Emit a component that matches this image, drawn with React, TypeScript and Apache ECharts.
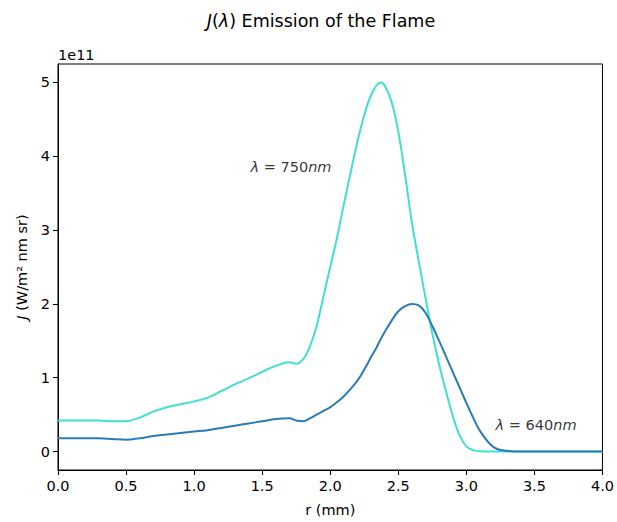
import React, { useEffect, useRef } from "react";
import * as echarts from "echarts";

// r (mm)
const rValues = [
  0.0, 0.1, 0.2, 0.3, 0.4, 0.5, 0.6, 0.7, 0.8, 0.9, 1.0, 1.1, 1.2, 1.3, 1.4, 1.5, 1.6, 1.7, 1.75, 1.8,
  1.85, 1.9, 1.95, 2.0, 2.05, 2.1, 2.15, 2.2, 2.25, 2.3, 2.34, 2.37, 2.4, 2.45, 2.5, 2.55, 2.6, 2.65, 2.7,
  2.75, 2.8, 2.85, 2.9, 2.95, 3.0, 3.05, 3.1, 3.2, 3.3, 3.4, 3.6, 3.8, 4.0,
];
// J at lambda = 750 nm (units of 1e11 W/m^2 nm sr)
const j750 = [
  0.42, 0.42, 0.42, 0.42, 0.41, 0.41, 0.46, 0.54, 0.6, 0.64, 0.68, 0.73, 0.82, 0.91, 0.99, 1.08, 1.16, 1.21, 1.19, 1.25,
  1.42, 1.7, 2.1, 2.5, 2.9, 3.35, 3.78, 4.2, 4.56, 4.83, 4.96, 5.0, 4.96, 4.74, 4.33, 3.75, 3.1, 2.58, 2.08,
  1.6, 1.18, 0.82, 0.48, 0.22, 0.07, 0.02, 0.005, 0, 0, 0, 0, 0, 0,
];
// J at lambda = 640 nm (units of 1e11 W/m^2 nm sr)
const j640 = [
  0.18, 0.18, 0.18, 0.18, 0.17, 0.16, 0.18, 0.21, 0.23, 0.25, 0.27, 0.29, 0.32, 0.35, 0.38, 0.41, 0.44, 0.45, 0.42, 0.41,
  0.45, 0.5, 0.55, 0.6, 0.67, 0.75, 0.85, 0.96, 1.11, 1.28, 1.41, 1.52, 1.62, 1.77, 1.9, 1.97, 2.0, 1.98, 1.88,
  1.7, 1.5, 1.29, 1.08, 0.87, 0.66, 0.46, 0.28, 0.06, 0.01, 0, 0, 0, 0,
];
const xTicks = [0, 0.5, 1, 1.5, 2, 2.5, 3, 3.5, 4];
const yTicks = [0, 1, 2, 3, 4, 5];
const annotations = [
  { wl: "750", r: 1.4, v: 3.8 },
  { wl: "640", r: 3.2, v: 0.3 },
];

const FONT = "DejaVu Sans";
const FS = 14.5;

export default function App() {
  const ref = useRef<HTMLDivElement>(null);
  useEffect(() => {
    document.body.style.margin = "0";
    const chart = echarts.init(ref.current!, null, { renderer: "svg" });
    const pairs = (ys: number[]) => rValues.map((r, i) => [r, ys[i]]);
    const rich = {
      it: { fontStyle: "italic", fontSize: FS, fontFamily: FONT, color: "#000" },
      n: { fontSize: FS, fontFamily: FONT, color: "#000" },
    };
    chart.setOption({
      animation: false,
      backgroundColor: "#fff",
      textStyle: { fontFamily: FONT },
      grid: { left: 58, right: 11, top: 64, bottom: 49, show: true, borderColor: "#000", borderWidth: 1 },
      graphic: [
        {
          type: "text",
          x: 321,
          y: 21,
          style: {
            text: "{it|J}{n|(}{it|λ}{n|) Emission of the Flame}",
            rich: {
              it: { fontStyle: "italic", fontSize: 17.5, fontFamily: FONT, fill: "#000" },
              n: { fontSize: 17.5, fontFamily: FONT, fill: "#000" },
            },
            align: "center",
            verticalAlign: "middle",
          },
        } as any,
        {
          type: "text",
          x: 58,
          y: 55,
          style: {
            text: "1e11",
            fontSize: FS,
            fontFamily: FONT,
            fill: "#000",
            align: "left",
            verticalAlign: "middle",
          },
        },
      ],
      xAxis: {
        type: "value",
        min: 0,
        max: 4,
        interval: 0.5,
        name: "r (mm)",
        nameLocation: "middle",
        nameGap: 32,
        nameTextStyle: { fontSize: FS, fontFamily: FONT, color: "#000" },
        axisLine: { show: true, onZero: false, lineStyle: { color: "#000", width: 1 } },
        axisTick: { show: true, inside: false, length: 5, lineStyle: { color: "#000" }, customValues: xTicks },
        axisLabel: {
          fontSize: FS,
          fontFamily: FONT,
          color: "#000",
          margin: 8,
          customValues: xTicks,
          formatter: (v: number) => v.toFixed(1),
        },
        splitLine: { show: false },
      },
      yAxis: {
        type: "value",
        min: -0.25,
        max: 5.25,
        name: "{it|J} (W/m² nm sr)",
        nameLocation: "middle",
        nameGap: 29,
        nameRotate: 90,
        nameTextStyle: { fontSize: FS, fontFamily: FONT, color: "#000", rich },
        axisLine: { show: true, onZero: false, lineStyle: { color: "#000", width: 1 } },
        axisTick: { show: true, inside: false, length: 5, lineStyle: { color: "#000" }, customValues: yTicks },
        axisLabel: {
          fontSize: FS,
          fontFamily: FONT,
          color: "#000",
          margin: 8,
          customValues: yTicks,
          formatter: (v: number) => String(Math.round(v)),
        },
        splitLine: { show: false },
      },
      series: [
        {
          type: "line",
          name: "750 nm",
          data: pairs(j750),
          smooth: 0.4,
          showSymbol: false,
          lineStyle: { color: "#40E0D0", width: 2 },
          itemStyle: { color: "#40E0D0" },
          z: 2,
        },
        {
          type: "line",
          name: "640 nm",
          data: pairs(j640),
          smooth: 0.4,
          showSymbol: false,
          lineStyle: { color: "#2c7bb6", width: 2 },
          itemStyle: { color: "#2c7bb6" },
          z: 3,
        },
        {
          type: "scatter",
          name: "annotations",
          symbolSize: 0,
          silent: true,
          data: annotations.map((a) => ({
            value: [a.r, a.v],
            label: {
              show: true,
              position: "insideBottomLeft",
              distance: 0,
              align: "left",
              verticalAlign: "bottom",
              offset: [2, 3],
              formatter: `{it|λ}{n| = ${a.wl}}{it|nm}`,
              rich,
            },
          })),
          z: 4,
        },
      ],
    });
    return () => chart.dispose();
  }, []);
  return <div ref={ref} style={{ width: 617, height: 522 }} />;
}
